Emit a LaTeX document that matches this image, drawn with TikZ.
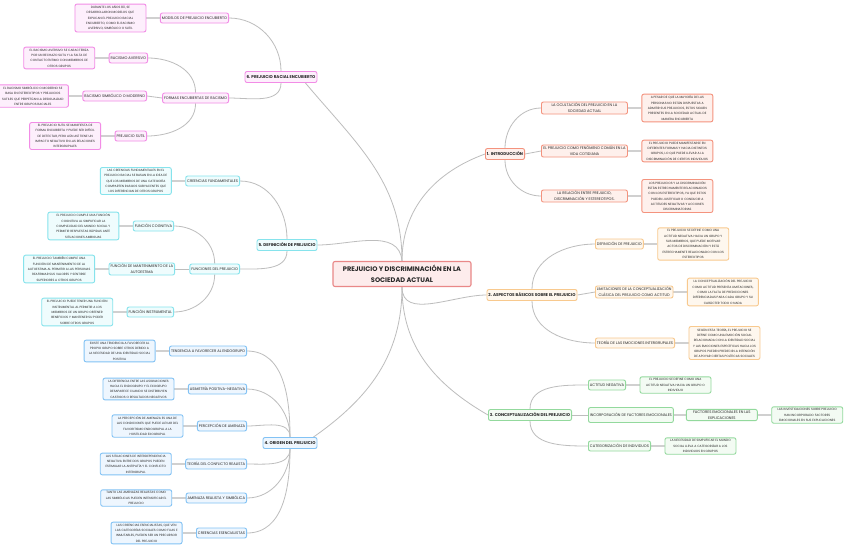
\documentclass[tikz,border=0pt]{standalone}
\usepackage{fontspec}
\setmainfont{Poppins}
\usetikzlibrary{positioning,backgrounds}
\definecolor{wire}{HTML}{BDBDBD}
\definecolor{wirelt}{HTML}{D0D0D0}
\definecolor{inkt}{HTML}{262626}
\definecolor{rootln}{HTML}{E98888}\definecolor{rootbg}{HTML}{FDECEC}
\definecolor{introln}{HTML}{F4937E}\definecolor{introbg}{HTML}{FEF0EC}
\definecolor{basicln}{HTML}{F8C98E}\definecolor{basicbg}{HTML}{FEF7EE}
\definecolor{conceptln}{HTML}{93D99D}\definecolor{conceptbg}{HTML}{F3FBF3}
\definecolor{originln}{HTML}{82C2F4}\definecolor{originbg}{HTML}{EEF6FE}
\definecolor{definln}{HTML}{86E3EC}\definecolor{definbg}{HTML}{EFFCFD}
\definecolor{covertln}{HTML}{F28CE6}\definecolor{covertbg}{HTML}{FDEFFC}

\begin{document}
\begin{tikzpicture}[x=1pt,y=1pt,
 card/.style={rounded corners=2pt,line width=.9pt,align=center,inner sep=1.5pt,text=inkt},
 topic/.style={card,font=\fontsize{6.6}{11.5}\selectfont\bfseries,draw=rootln,fill=rootbg,
 line width=1.1pt,minimum width=138pt,minimum height=25pt},
 branch/.style={card,font=\fontsize{4.1}{5.5}\selectfont\bfseries,minimum height=11pt},
 item/.style={card,font=\fontsize{3.7}{5.6}\selectfont,minimum height=10pt},
 note/.style={card,font=\fontsize{3.1}{5.3}\selectfont,minimum width=71pt,inner sep=1.8pt},
 intro/.style={draw=introln,fill=introbg},
 basic/.style={draw=basicln,fill=basicbg},
 concept/.style={draw=conceptln,fill=conceptbg},
 origin/.style={draw=originln,fill=originbg},
 defin/.style={draw=definln,fill=definbg},
 covert/.style={draw=covertln,fill=covertbg},
 wire/.style={draw=wire,line width=.8pt},
 link/.style={draw=wirelt,line width=1.4pt},
 node distance=13.5pt]
 \useasboundingbox (0,0) rectangle (848,-550);

 \node[topic] (root) at (402,-274) {PREJUICIO Y DISCRIMINACIÓN EN LA\\SOCIEDAD ACTUAL};

 % 1. introduccion
 \node[branch,intro] (b1) at (505,-154) {1. INTRODUCCIÓN};
 \node[item,intro,anchor=west,minimum width=86pt] (i11) at (541,-108) {LA OCULTACIÓN DEL PREJUICIO EN LA\\SOCIEDAD ACTUAL};
 \node[note,intro,right=of i11] (n11) {A PESAR DE QUE LA MAYORÍA DE LAS\\PERSONAS NO ESTÁN DISPUESTAS A\\ADMITIR SUS PREJUICIOS, ESTOS SIGUEN\\PRESENTES EN LA SOCIEDAD ACTUAL DE\\MANERA ENCUBIERTA};
 \node[item,intro,anchor=west,minimum width=86pt] (i12) at (541,-151) {EL PREJUICIO COMO FENÓMENO COMÚN EN LA\\VIDA COTIDIANA};
 \node[note,intro,right=of i12] (n12) {EL PREJUICIO PUEDE MANIFESTARSE EN\\DIFERENTES FORMAS Y HACIA DISTINTOS\\GRUPOS, LO QUE PUEDE LLEVAR A LA\\DISCRIMINACIÓN DE CIERTOS INDIVIDUOS};
 \node[item,intro,anchor=west,minimum width=86pt] (i13) at (541,-196) {LA RELACIÓN ENTRE PREJUICIO,\\DISCRIMINACIÓN Y ESTEREOTIPOS.};
 \node[note,intro,right=of i13] (n13) {LOS PREJUICIOS Y LA DISCRIMINACIÓN\\ESTÁN ESTRECHAMENTE RELACIONADOS\\CON LOS ESTEREOTIPOS, YA QUE ESTOS\\PUEDEN JUSTIFICAR O CONDUCIR A\\ACTITUDES NEGATIVAS Y ACCIONES\\DISCRIMINATORIAS};

 % 2. aspectos basicos
 \node[branch,basic] (b2) at (532,-295) {2. ASPECTOS BÁSICOS SOBRE EL PREJUICIO};
 \node[item,basic,anchor=west] (i21) at (595,-244) {DEFINICIÓN DE PREJUICIO};
 \node[note,basic,right=of i21] (n21) {EL PREJUICIO SE DEFINE COMO UNA\\ACTITUD NEGATIVA HACIA UN GRUPO Y\\SUS MIEMBROS, QUE PUEDE MOTIVAR\\ACTOS DE DISCRIMINACIÓN Y ESTÁ\\ESTRECHAMENTE RELACIONADO CON LOS\\ESTEREOTIPOS};
 \node[item,basic,anchor=west] (i22) at (595,-292) {LIMITACIONES DE LA CONCEPTUALIZACIÓN\\CLÁSICA DEL PREJUICIO COMO ACTITUD};
 \node[note,basic,right=of i22] (n22) {LA CONCEPTUALIZACIÓN DEL PREJUICIO\\COMO ACTITUD PRESENTA LIMITACIONES,\\COMO LA FALTA DE PREDICCIONES\\DIFERENCIADAS PARA CADA GRUPO Y SU\\CARÁCTER TODO O NADA};
 \node[item,basic,anchor=west] (i23) at (595,-343) {TEORÍA DE LAS EMOCIONES INTERGRUPALES};
 \node[note,basic,right=of i23] (n23) {SEGÚN ESTA TEORÍA, EL PREJUICIO SE\\DEFINE COMO UNA EMOCIÓN SOCIAL\\RELACIONADA CON LA IDENTIDAD SOCIAL\\Y LAS EMOCIONES ESPECÍFICAS HACIA LOS\\GRUPOS PUEDEN PREDECIR LA INTENCIÓN\\DE APOYAR CIERTAS POLÍTICAS SOCIALES};

 % 3. conceptualizacion
 \node[branch,concept] (b3) at (530,-415) {3. CONCEPTUALIZACIÓN DEL PREJUICIO};
 \node[item,concept,anchor=west] (i31) at (588,-385) {ACTITUD NEGATIVA};
 \node[note,concept,right=of i31] (n31) {EL PREJUICIO SE DEFINE COMO UNA\\ACTITUD NEGATIVA HACIA UN GRUPO O\\INDIVIDUO};
 \node[item,concept,anchor=west,minimum height=15pt] (i32) at (588,-415) {INCORPORACIÓN DE FACTORES EMOCIONALES};
 \node[item,concept,right=12pt of i32,minimum width=71pt] (i32b) {FACTORES EMOCIONALES EN LAS\\EXPLICACIONES};
 \node[note,concept,right=of i32b] (n32) {LAS INVESTIGACIONES SOBRE PREJUICIO\\HAN INCORPORADO FACTORES\\EMOCIONALES EN SUS EXPLICACIONES};
 \node[item,concept,anchor=west] (i33) at (588,-446) {CATEGORIZACIÓN DE INDIVIDUOS};
 \node[note,concept,right=of i33] (n33) {LA NECESIDAD DE SIMPLIFICAR EL MUNDO\\SOCIAL LLEVA A CATEGORIZAR A LOS\\INDIVIDUOS EN GRUPOS};

 % 4. origen
 \node[branch,origin] (b4) at (290,-443) {4. ORIGEN DEL PREJUICIO};
 \node[item,origin,anchor=east] (i41) at (247,-351) {TENDENCIA A FAVORECER AL ENDOGRUPO};
 \node[note,origin,left=of i41] (n41) {EXISTE UNA TENDENCIA A FAVORECER AL\\PROPIO GRUPO SOBRE OTROS DEBIDO A\\LA NECESIDAD DE UNA IDENTIDAD SOCIAL\\POSITIVA};
 \node[item,origin,anchor=east] (i42) at (247,-389) {ASIMETRÍA POSITIVA-NEGATIVA};
 \node[note,origin,left=of i42] (n42) {LA DIFERENCIA ENTRE LAS ASIGNACIONES\\HACIA EL ENDOGRUPO Y EL EXOGRUPO\\DESAPARECE CUANDO SE DISTRIBUYEN\\CASTIGOS O RESULTADOS NEGATIVOS};
 \node[item,origin,anchor=east] (i43) at (247,-426) {PERCEPCIÓN DE AMENAZA};
 \node[note,origin,left=of i43] (n43) {LA PERCEPCIÓN DE AMENAZA ES UNA DE\\LAS CONDICIONES QUE PUEDE LLEVAR DEL\\FAVORITISMO ENDOGRUPAL A LA\\HOSTILIDAD EXOGRUPAL};
 \node[item,origin,anchor=east] (i44) at (247,-464) {TEORÍA DEL CONFLICTO REALISTA};
 \node[note,origin,left=of i44] (n44) {LAS SITUACIONES DE INTERDEPENDENCIA\\NEGATIVA ENTRE DOS GRUPOS PUEDEN\\ESTIMULAR LA ANTIPATÍA Y EL CONFLICTO\\INTERGRUPAL};
 \node[item,origin,anchor=east] (i45) at (247,-498) {AMENAZA REALISTA Y SIMBÓLICA};
 \node[note,origin,left=of i45] (n45) {TANTO LAS AMENAZAS REALISTAS COMO\\LAS SIMBÓLICAS PUEDEN INTENSIFICAR EL\\PREJUICIO};
 \node[item,origin,anchor=east] (i46) at (247,-533) {CREENCIAS ESENCIALISTAS};
 \node[note,origin,left=of i46] (n46) {LAS CREENCIAS ESENCIALISTAS, QUE VEN\\LAS CATEGORÍAS SOCIALES COMO FIJAS E\\INMUTABLES, PUEDEN SER UN PRECURSOR\\DEL PREJUICIO};

 % 5. definicion
 \node[branch,defin] (b5) at (287,-245) {5. DEFINICIÓN DE PREJUICIO};
 \node[item,defin,anchor=east] (i51) at (240,-181) {CREENCIAS FUNDAMENTALES};
 \node[note,defin,left=of i51] (n51) {LAS CREENCIAS FUNDAMENTALES EN EL\\PREJUICIO RACIAL SE BASAN EN LA IDEA DE\\QUE LOS MIEMBROS DE UNA CATEGORÍA\\COMPARTEN RASGOS SUBYACENTES QUE\\LOS DIFERENCIAN DE OTROS GRUPOS};
 \node[item,defin,anchor=east] (i52) at (240,-269) {FUNCIONES DEL PREJUICIO};
 \node[item,defin,anchor=east] (i521) at (174,-226) {FUNCIÓN COGNITIVA};
 \node[note,defin,left=of i521] (n521) {EL PREJUICIO CUMPLE UNA FUNCIÓN\\COGNITIVA AL SIMPLIFICAR LA\\COMPLEJIDAD DEL MUNDO SOCIAL Y\\PERMITIR RESPUESTAS RÁPIDAS ANTE\\SITUACIONES AMBIGUAS};
 \node[item,defin,anchor=east] (i522) at (175,-269) {FUNCIÓN DE MANTENIMIENTO DE LA\\AUTOESTIMA};
 \node[note,defin,left=of i522] (n522) {EL PREJUICIO TAMBIÉN CUMPLE UNA\\FUNCIÓN DE MANTENIMIENTO DE LA\\AUTOESTIMA AL PERMITIR A LAS PERSONAS\\REAFIRMAR SUS VALORES Y SENTIRSE\\SUPERIORES A OTROS GRUPOS};
 \node[item,defin,anchor=east] (i523) at (174,-312) {FUNCIÓN INSTRUMENTAL};
 \node[note,defin,left=of i523] (n523) {EL PREJUICIO PUEDE TENER UNA FUNCIÓN\\INSTRUMENTAL AL PERMITIR A LOS\\MIEMBROS DE UN GRUPO OBTENER\\BENEFICIOS Y MANTENER SU PODER\\SOBRE OTROS GRUPOS};

 % 6. prejuicio racial encubierto
 \node[branch,covert] (b6) at (281,-77) {6. PREJUICIO RACIAL ENCUBIERTO};
 \node[item,covert,anchor=east] (i61) at (229,-18) {MODELOS DE PREJUICIO ENCUBIERTO};
 \node[note,covert,left=of i61] (n61) {DURANTE LOS AÑOS 80, SE\\DESARROLLARON MODELOS QUE\\EXPLICAN EL PREJUICIO RACIAL\\ENCUBIERTO, COMO EL RACISMO\\AVERSIVO, SIMBÓLICO O SUTIL};
 \node[item,covert,anchor=east] (i62) at (229,-98) {FORMAS ENCUBIERTAS DE RACISMO};
 \node[item,covert,anchor=east] (i621) at (148,-58) {RACISMO AVERSIVO};
 \node[note,covert,left=of i621] (n621) {EL RACISMO AVERSIVO SE CARACTERIZA\\POR UN RECHAZO SUTIL Y LA FALTA DE\\CONTACTO ÍNTIMO CON MIEMBROS DE\\OTROS GRUPOS};
 \node[item,covert,anchor=east] (i622) at (147,-96) {RACISMO SIMBÓLICO O MODERNO};
 \node[note,covert,left=of i622] (n622) {EL RACISMO SIMBÓLICO O MODERNO SE\\BASA EN ESTEREOTIPOS Y PREJUICIOS\\SUTILES QUE PERPETÚAN LA DESIGUALDAD\\ENTRE GRUPOS RACIALES};
 \node[item,covert,anchor=east] (i623) at (147,-136) {PREJUICIO SUTIL};
 \node[note,covert,left=of i623] (n623) {EL PREJUICIO SUTIL SE MANIFIESTA DE\\FORMA ENCUBIERTA Y PUEDE SER DIFÍCIL\\DE DETECTAR, PERO AÚN ASÍ TIENE UN\\IMPACTO NEGATIVO EN LAS RELACIONES\\INTERGRUPALES};

 \begin{scope}[on background layer]
 \fill[white] (0,0) rectangle (848,-550);
 % main branches
 \draw[wire] (root.north) to[out=90,in=-50] ([xshift=-12pt]b6.south east);
 \draw[wire] (root.north) to[out=90,in=200] (b1.west);
 \draw[wire] (b5.east) to[out=0,in=95] (root.north);
 \draw[wire] (root.south) to[out=-90,in=180] (b2.west);
 \draw[wire] (root.south) to[out=-90,in=150] (b3.west);
 \draw[wire] (root.south) to[out=-90,in=35] ([xshift=-4pt]b4.north east);
 % right side
 \draw[wire] (b1.north) to[out=90,in=180] (i11.west);
 \draw[wire] (b1.east) -- (i12.west);
 \draw[wire] (b1.south) to[out=-90,in=180] (i13.west);
 \draw[wire] (b2.north) to[out=90,in=180] (i21.west);
 \draw[wire] (b2.east) -- (i22.west);
 \draw[wire] (b2.south) to[out=-90,in=180] (i23.west);
 \draw[wire] (b3.north) to[out=90,in=180] (i31.west);
 \draw[wire] (b3.east) -- (i32.west);
 \draw[wire] (b3.south) to[out=-90,in=180] (i33.west);
 % left side
 \draw[wire] (b4.north) to[out=90,in=0] (i41.east);
 \draw[wire] (b4.north) to[out=90,in=0] (i42.east);
 \draw[wire] (b4.north) to[out=90,in=0] (i43.east);
 \draw[wire] (b4.south) to[out=-90,in=0] (i44.east);
 \draw[wire] (b4.south) to[out=-90,in=0] (i45.east);
 \draw[wire] (b4.south) to[out=-90,in=0] (i46.east);
 \draw[wire] (b5.north) to[out=90,in=0] (i51.east);
 \draw[wire] (b5.south) to[out=-90,in=0] (i52.east);
 \draw[wire] (i52.north) to[out=90,in=0] (i521.east);
 \draw[wire] (i52.west) -- (i522.east);
 \draw[wire] (i52.south) to[out=-90,in=0] (i523.east);
 \draw[wire] (b6.north) to[out=90,in=0] (i61.east);
 \draw[wire] (b6.south) to[out=-90,in=0] (i62.east);
 \draw[wire] (i62.north) to[out=90,in=0] (i621.east);
 \draw[wire] (i62.west) -- (i622.east);
 \draw[wire] (i62.south) to[out=-90,in=0] (i623.east);
 % notes
 \foreach \a/\b in {i11/n11,i12/n12,i13/n13,i21/n21,i22/n22,i23/n23,
   i31/n31,i32/i32b,i32b/n32,i33/n33,i41/n41,i42/n42,i43/n43,i44/n44,
   i45/n45,i46/n46,i51/n51,i521/n521,i522/n522,i523/n523,i61/n61,
   i621/n621,i622/n622,i623/n623}
   \draw[link] (\a) -- (\b);
 \end{scope}
\end{tikzpicture}
\end{document}
